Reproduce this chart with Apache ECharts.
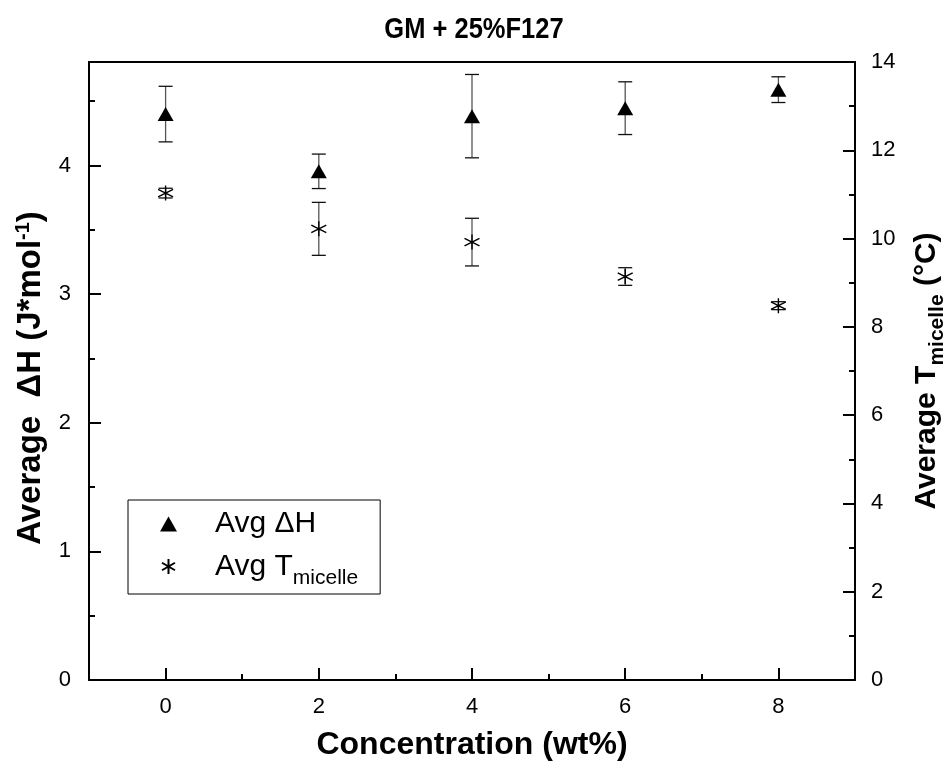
<!DOCTYPE html>
<html><head><meta charset="utf-8">
<script src="https://cdn.jsdelivr.net/npm/echarts@6/dist/echarts.min.js"></script>
<style>html,body{margin:0;padding:0;background:#fff}#c{width:948px;height:770px}</style>
</head><body><div id="c"></div>
<script>
// ---- data ----
const concentration = [0, 2, 4, 6, 8];
const avgDH = [4.40, 3.955, 4.384, 4.446, 4.59];
const avgDHErr = [0.216, 0.134, 0.324, 0.205, 0.10];
const avgT = [11.03, 10.22, 9.92, 9.14, 8.48];
const avgTErr = [0.11, 0.60, 0.54, 0.20, 0.09];
const xMajorTicks = [0, 2, 4, 6, 8];
const xMinorTicks = [1, 3, 5, 7];
const leftMajorTicks = [0, 1, 2, 3, 4];
const leftMinorTicks = [0.5, 1.5, 2.5, 3.5, 4.5];
const rightMajorTicks = [0, 2, 4, 6, 8, 10, 12, 14];
const rightMinorTicks = [1, 3, 5, 7, 9, 11, 13];

const FONT = "'Liberation Sans', Arial, sans-serif";
const chart = echarts.init(document.getElementById('c'), null, {renderer: 'canvas'});

function errRender(params, api) {
  const x = api.value(0), y = api.value(1), e = api.value(2);
  const top = api.coord([x, y + e]), bot = api.coord([x, y - e]);
  const hw = 7;
  return {type: 'group', children: [
    {type: 'line', shape: {x1: top[0], y1: top[1], x2: bot[0], y2: bot[1]}, style: {stroke: '#555', lineWidth: 1.3}},
    {type: 'line', shape: {x1: top[0] - hw, y1: top[1], x2: top[0] + hw, y2: top[1]}, style: {stroke: '#111', lineWidth: 1.3}},
    {type: 'line', shape: {x1: bot[0] - hw, y1: bot[1], x2: bot[0] + hw, y2: bot[1]}, style: {stroke: '#111', lineWidth: 1.3}}
  ]};
}

const axisLine = {show: true, onZero: false, lineStyle: {color: '#000', width: 2}};
const noLine = {show: false, onZero: false};
const labelStyle = {color: '#000', fontSize: 22, fontFamily: FONT};
const STAR = 'path://M0,-10L0,10M-8.66,-5L8.66,5M-8.66,5L8.66,-5';

const option = {
  backgroundColor: '#fff',
  animation: false,
  graphic: [
    {
      type: 'text', x: 474, y: 30, scaleX: 0.85, silent: true,
      style: {
        text: 'GM + 25%F127', align: 'center', verticalAlign: 'middle',
        font: "bold 30px 'Liberation Sans', Arial, sans-serif", fill: '#000'
      }
    }
  ],
  grid: {left: 89, right: 93, top: 62, bottom: 90, containLabel: false, outerBoundsMode: 'none'},
  legend: {
    left: 128, top: 500, orient: 'vertical',
    padding: [9, 22, 5, 32],
    borderColor: '#000', borderWidth: 1, borderRadius: 0,
    itemWidth: 17, itemHeight: 15, itemGap: 5,
    data: ['Avg ΔH', 'Avg Tmicelle'],
    formatter: function (n) { return n === 'Avg ΔH' ? '{a|Avg ΔH}' : '{a|Avg T}{s|micelle}'; },
    textStyle: {
      color: '#000', fontFamily: FONT, fontSize: 30,
      rich: {
        a: {fontSize: 30, lineHeight: 32, padding: [0, 0, 0, 33], fontFamily: FONT, color: '#000'},
        s: {fontSize: 21, lineHeight: 20, padding: [24, 0, 0, 0], fontFamily: FONT, color: '#000'}
      }
    }
  },
  xAxis: [
    {
      type: 'value', min: -1, max: 9, position: 'bottom',
      axisLine: axisLine,
      axisTick: {show: true, inside: true, length: 12, lineStyle: {color: '#000', width: 2}, customValues: xMajorTicks},
      axisLabel: Object.assign({margin: 16, customValues: xMajorTicks}, labelStyle),
      splitLine: {show: false},
      name: 'Concentration (wt%)', nameLocation: 'middle', nameGap: 49,
      nameTextStyle: {fontFamily: FONT, fontWeight: 'bold', fontSize: 32, color: '#000'}
    },
    {
      type: 'value', min: -1, max: 9, position: 'top',
      axisLine: axisLine, axisTick: {show: false}, axisLabel: {show: false}, splitLine: {show: false}
    },
    {
      type: 'value', min: -1, max: 9, position: 'bottom',
      axisLine: noLine,
      axisTick: {show: true, inside: true, length: 6, lineStyle: {color: '#000', width: 2}, customValues: xMinorTicks},
      axisLabel: {show: false}, splitLine: {show: false}
    }
  ],
  yAxis: [
    {
      type: 'value', min: 0, max: 4.805, position: 'left',
      axisLine: axisLine,
      axisTick: {show: true, inside: true, length: 12, lineStyle: {color: '#000', width: 2}, customValues: leftMajorTicks},
      axisLabel: Object.assign({margin: 18, customValues: leftMajorTicks}, labelStyle),
      splitLine: {show: false},
      name: 'Average  ΔH (J*mol{sup|-1})', nameLocation: 'middle', nameGap: 36, nameRotate: 90,
      nameTextStyle: {
        fontFamily: FONT, fontWeight: 'bold', fontSize: 33, color: '#000', padding: [0, 14, 0, 0],
        rich: {sup: {fontFamily: FONT, fontWeight: 'bold', fontSize: 20, color: '#000', padding: [0, 0, 15, 0]}}
      }
    },
    {
      type: 'value', min: 0, max: 14, position: 'right',
      axisLine: axisLine,
      axisTick: {show: true, inside: true, length: 12, lineStyle: {color: '#000', width: 2}, customValues: rightMajorTicks},
      axisLabel: Object.assign({margin: 16, customValues: rightMajorTicks}, labelStyle),
      splitLine: {show: false},
      name: 'Average T{sub|micelle} (°C)', nameLocation: 'middle', nameGap: 50, nameRotate: 90,
      nameTextStyle: {
        fontFamily: FONT, fontWeight: 'bold', fontSize: 30, color: '#000',
        rich: {sub: {fontFamily: FONT, fontWeight: 'bold', fontSize: 21, color: '#000', padding: [22, 0, 0, 0]}}
      }
    },
    {
      type: 'value', min: 0, max: 4.805, position: 'left',
      axisLine: noLine,
      axisTick: {show: true, inside: true, length: 6, lineStyle: {color: '#000', width: 2}, customValues: leftMinorTicks},
      axisLabel: {show: false}, splitLine: {show: false}
    },
    {
      type: 'value', min: 0, max: 14, position: 'right',
      axisLine: noLine,
      axisTick: {show: true, inside: true, length: 6, lineStyle: {color: '#000', width: 2}, customValues: rightMinorTicks},
      axisLabel: {show: false}, splitLine: {show: false}
    }
  ],
  series: [
    {
      type: 'custom', name: 'errDH', xAxisIndex: 0, yAxisIndex: 0, z: 2,
      renderItem: errRender, encode: {x: 0, y: 1},
      data: concentration.map((x, i) => [x, avgDH[i], avgDHErr[i]])
    },
    {
      type: 'custom', name: 'errT', xAxisIndex: 0, yAxisIndex: 1, z: 2,
      renderItem: errRender, encode: {x: 0, y: 1},
      data: concentration.map((x, i) => [x, avgT[i], avgTErr[i]])
    },
    {
      type: 'scatter', name: 'Avg ΔH', xAxisIndex: 0, yAxisIndex: 0, z: 3,
      symbol: 'triangle', symbolSize: [16, 14],
      itemStyle: {color: '#000', opacity: 1},
      data: concentration.map((x, i) => [x, avgDH[i]])
    },
    {
      type: 'scatter', name: 'Avg Tmicelle', xAxisIndex: 0, yAxisIndex: 1, z: 3,
      symbol: STAR, symbolSize: [15, 15],
      itemStyle: {color: 'rgba(0,0,0,0)', borderColor: '#000', borderWidth: 1.4, opacity: 1},
      data: concentration.map((x, i) => [x, avgT[i]])
    }
  ]
};
chart.setOption(option);
</script></body></html>
